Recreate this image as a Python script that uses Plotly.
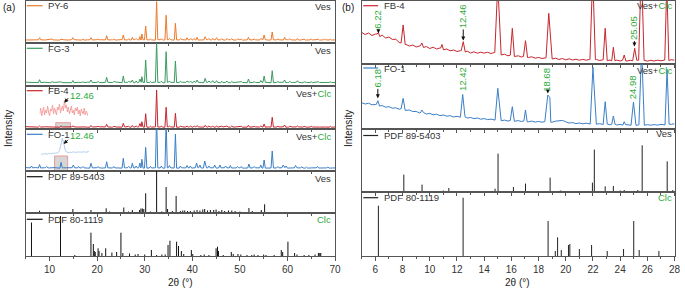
import plotly.graph_objects as go

W, H = 685, 288
FONT = "Liberation Sans, Arial, sans-serif"

ORANGE = "#EC7A2A"
GREEN_L = "#3A9B5E"
RED = "#C6262E"
BLUE = "#3A7EC6"
LIGHTRED = "#F4A0A0"
LIGHTBLUE = "#AECBEA"
GREEN_T = "#2EAA3A"
FRAME = "#555555"

# ---------------- panel (a) data (intensity in arbitrary units) ----------------
A_BASE_X = list(range(5, 71))
PY6_BASE = [3.0,3.3,2.9,3.2,3.0,3.4,3.1,2.9,3.2,3.0,
            3.3,3.1,2.9,3.2,3.0,3.3,2.9,3.1,3.2,3.0,
            3.4,3.1,2.9,3.3,3.0,3.2,3.1,2.9,3.3,3.0,
            3.2,2.9,3.1,3.3,3.0,3.2,2.9,3.1,3.3,3.0,
            3.2,3.1,2.9,3.3,3.0,3.2,2.9,3.1,3.2,3.0,
            3.3,2.9,3.1,3.2,3.0,3.3,3.1,2.9,3.2,3.0,
            3.1,3.3,2.9,3.2,3.0,3.1]
FG3_BASE = [3.8,3.5,3.9,3.4,3.7,3.3,3.6,3.9,3.4,3.6,
            3.3,3.7,3.5,3.8,3.4,3.6,3.3,3.7,3.5,3.9,
            3.4,3.6,3.8,3.3,3.7,3.5,3.4,3.8,3.6,3.3,
            3.7,3.5,3.4,3.8,3.6,3.3,3.7,3.4,3.6,3.8,
            3.5,3.3,3.7,3.4,3.6,3.8,3.5,3.3,3.6,3.4,
            3.7,3.5,3.3,3.6,3.8,3.4,3.5,3.7,3.3,3.6,
            3.4,3.7,3.5,3.3,3.6,3.4]
FB4A_BASE = [2.3,2.0,2.4,1.9,2.2,2.0,2.3,1.8,2.1,2.0,
             2.2,1.9,2.1,1.8,2.0,2.2,1.9,2.1,1.8,2.0,
             1.9,2.1,1.8,2.0,2.2,1.9,1.8,2.1,2.0,1.8,
             2.1,1.9,1.8,2.1,2.0,1.8,2.2,1.9,2.0,2.1,
             1.8,2.0,2.2,1.9,2.0,2.1,1.8,1.9,2.1,2.0,
             1.8,2.1,1.9,2.0,2.2,1.8,2.0,2.1,1.9,1.8,
             2.0,2.1,1.9,2.0,1.8,2.0]
FO1A_BASE = [3.4,3.1,3.5,3.0,3.3,3.1,3.4,2.9,3.2,3.0,
             3.3,3.0,3.2,2.9,3.1,3.3,2.9,3.2,3.0,3.1,
             2.9,3.2,3.0,3.1,3.3,2.9,3.0,3.2,3.1,2.9,
             3.2,3.0,2.9,3.2,3.1,2.9,3.3,3.0,3.1,3.2,
             2.9,3.1,3.3,3.0,3.1,3.2,2.9,3.0,3.2,3.1,
             2.9,3.2,3.0,3.1,3.3,2.9,3.1,3.2,3.0,2.9,
             3.1,3.2,3.0,3.1,2.9,3.1]

A_PEAK_POS = [7.9, 10.5, 12.4, 14.9, 17.0, 18.7, 20.2, 22.0, 23.5, 25.5,
              26.6, 27.4, 28.2, 29.0, 29.4, 30.2, 31.2, 32.5, 33.5, 34.5,
              35.2, 36.45, 37.5, 38.9, 39.6, 40.4, 41.0, 42.7, 43.5, 44.3,
              45.1, 46.2, 47.3, 48.3, 49.5, 50.3, 51.8, 53.0, 54.4, 55.1,
              56.8, 58.0, 59.4, 60.5, 62.1, 63.5, 65.0, 66.5, 67.8, 69.0]
PY6_PEAK_TOP = [5.3, 4.0, 3.8, 5.3, 3.8, 5.3, 4.0, 7.3, 4.0, 8.0,
                4.0, 5.7, 4.5, 6.5, 9.0, 17.0, 4.0, 41.3, 4.3, 27.8,
                4.5, 19.7, 4.2, 5.3, 4.5, 4.5, 5.7, 6.3, 4.5, 4.7,
                5.3, 4.3, 4.5, 4.3, 4.0, 4.0, 5.7, 4.0, 4.5, 8.0,
                11.0, 4.0, 5.7, 4.3, 4.5, 3.8, 4.0, 3.8, 4.0, 3.8]
FG3_PEAK_TOP = [6.3, 4.3, 4.2, 5.5, 4.3, 6.0, 4.5, 8.7, 4.5, 10.0,
                4.5, 6.0, 5.0, 7.0, 9.3, 26.0, 4.5, 45.0, 4.8, 34.3,
                5.0, 25.0, 4.8, 5.0, 4.8, 5.0, 6.0, 7.7, 5.0, 5.3,
                5.3, 4.8, 5.0, 4.5, 4.3, 4.3, 7.0, 4.3, 5.5, 10.0,
                15.3, 4.5, 6.0, 4.8, 5.3, 4.2, 4.3, 4.2, 4.0, 4.1]
FB4A_PEAK_TOP = [3.0, 2.6, 3.2, 3.0, 2.6, 3.5, 2.7, 4.7, 2.7, 5.7,
                 2.7, 3.5, 3.0, 5.5, 7.3, 15.3, 2.8, 39.0, 3.0, 21.7,
                 3.0, 15.7, 2.8, 3.0, 2.8, 3.0, 3.3, 3.7, 3.0, 3.0,
                 3.2, 2.8, 3.0, 3.0, 2.7, 2.7, 3.7, 2.7, 3.0, 5.0,
                 11.7, 2.7, 4.0, 2.8, 3.0, 2.6, 2.7, 2.6, 2.6, 2.6]
FO1A_PEAK_POS = [6.2, 7.9, 9.4, 12.42, 15.0, 16.1, 17.0, 18.7, 20.2, 22.0,
                 23.5, 25.5, 26.6, 27.4, 28.2, 29.0, 29.4, 30.2, 31.2, 32.5,
                 33.5, 34.5, 35.2, 36.45, 37.5, 38.9, 39.6, 40.9, 41.6, 42.6,
                 43.5, 44.7, 45.8, 47.0, 48.0, 49.5, 50.3, 51.9, 53.0, 54.4,
                 55.1, 56.8, 58.0, 59.1, 59.7, 61.7, 63.0, 64.0, 66.3, 68.5]
FO1A_PEAK_TOP = [5.0, 6.5, 4.5, 8.7, 6.0, 4.5, 4.5, 7.7, 4.3, 9.3,
                 4.5, 12.7, 4.5, 7.7, 5.0, 8.0, 11.7, 23.7, 4.5, 55.0,
                 5.0, 50.0, 5.5, 37.0, 5.0, 5.5, 5.0, 8.0, 6.0, 10.0,
                 5.0, 6.0, 6.0, 5.0, 5.5, 4.5, 4.5, 7.0, 4.5, 6.0,
                 11.0, 20.0, 4.5, 6.0, 5.0, 5.5, 4.3, 4.0, 4.5, 4.0]

PDF89A_POS = [7.9, 14.9, 18.7, 21.9, 22.6, 25.6, 26.6, 27.4, 28.9, 29.2,
              29.5, 29.8, 30.2, 31.2, 32.5, 33.6, 34.5, 34.8, 35.8, 36.6,
              37.5, 38.0, 38.4, 39.0, 39.6, 40.4, 41.0, 41.6, 42.2, 42.6,
              43.2, 43.8, 44.5, 45.0, 45.6, 46.2, 46.8, 47.6, 48.3, 49.0,
              50.0, 51.9, 52.6, 54.5, 55.2]
PDF89A_HT = [2.3, 4.0, 3.0, 4.7, 1.5, 5.5, 1.5, 3.0, 3.0, 4.5,
             4.5, 4.0, 19.7, 1.5, 42.0, 1.5, 26.0, 4.0, 2.0, 17.0,
             2.0, 2.5, 2.5, 2.0, 2.0, 2.5, 3.0, 2.5, 3.5, 4.0,
             2.5, 3.0, 3.0, 3.5, 2.0, 3.0, 2.0, 2.5, 2.5, 2.0,
             1.5, 5.0, 2.0, 3.0, 8.7]
PDF80A_POS = [6.2, 12.3, 15.3, 18.7, 19.2, 19.4, 19.6, 20.2, 20.4, 21.0,
              21.8, 23.1, 24.1, 25.0, 25.4, 26.8, 28.0, 28.6, 30.0, 31.4,
              32.5, 33.6, 34.3, 34.9, 35.3, 36.7, 37.1, 37.7, 38.2, 39.8,
              40.1, 41.8, 42.5, 43.5, 45.0, 45.3, 45.5, 46.5, 48.2, 48.6,
              49.6, 50.2, 51.5, 52.5, 53.0, 53.8, 55.0, 55.5, 57.2, 58.7,
              59.0, 60.1, 61.5, 62.0, 63.5, 64.5, 65.8, 66.5, 66.8, 67.0]
PDF80A_HT = [33.5, 40.0, 1.0, 23.3, 12.0, 5.0, 4.0, 7.7, 5.0, 3.0,
             7.7, 3.5, 4.0, 23.3, 3.0, 2.5, 1.5, 2.0, 1.5, 6.0,
             1.0, 1.5, 1.5, 11.0, 15.3, 14.3, 10.0, 5.0, 2.0, 6.0,
             2.0, 1.0, 1.5, 1.0, 7.7, 9.3, 5.0, 1.0, 4.0, 2.0,
             2.0, 1.5, 1.0, 1.0, 1.5, 1.0, 1.5, 1.0, 1.0, 6.0,
             4.0, 14.3, 3.0, 1.5, 1.0, 1.0, 1.5, 3.0, 3.0, 3.0]

# insets (magnified 2θ ≈ 11–14° region)
FB4_INSET_Y = [9,15,7,12,16,8,13,10,17,11,7,14,12,18,9,15,11,8,16,13,
               19,10,14,17,12,23,15,18,11,16,9,14,17,10,13,8,15,12,16,9,
               13,7,14,11,9,15,8,12,10,7]
FO1_INSET_Y = [3.0,2.6,3.2,2.8,3.4,3.0,3.3,2.9,3.6,3.2,
               3.7,3.3,3.9,3.5,4.0,3.6,4.1,3.8,4.6,6.5,
               10.5,15.5,19.0,15.0,10.0,6.5,5.0,4.6,4.9,4.4,
               4.8,4.3,4.9,5.2,4.6,5.0,4.4,4.9,5.3,4.7,
               5.1,4.5,5.0,5.4,4.8,5.2,4.6,5.1,5.5,4.9]

# ---------------- panel (b) data ----------------
B_BASE_X = [5 + 0.25 * i for i in range(93)]
FB4B_BASE = [31.5,29.5,31.0,28.5,30.0,27.5,28.8,26.0,27.0,24.5,24.8,21.5,
             21.0,19.5,18.0,19.0,17.0,18.2,16.5,17.5,15.5,16.8,15.0,16.0,
             14.2,15.0,13.2,14.0,12.5,13.3,12.0,12.8,11.0,12.2,10.8,11.8,
             10.9,11.7,10.5,11.5,10.5,9.0,9.8,8.2,8.8,7.5,8.2,7.0,
             7.6,6.5,7.2,5.8,6.6,5.5,6.2,5.8,5.0,5.8,4.5,5.5,
             4.2,5.2,4.0,4.8,3.8,4.6,3.8,4.5,4.0,4.5,3.5,4.2,
             3.3,4.0,3.2,3.9,3.0,3.8,3.0,3.7,3.2,3.8,3.0,3.6,
             2.9,3.7,3.0,3.8,3.2,4.0,3.5,4.3,3.8]
FO1B_BASE = [26.2,25.0,25.8,24.2,24.5,23.0,23.4,21.8,22.3,20.8,21.2,19.8,
             20.3,18.6,19.0,17.4,17.6,16.0,16.4,15.0,15.6,14.2,14.8,13.4,
             14.0,12.8,13.3,12.0,12.7,11.8,12.2,11.0,11.5,10.4,11.0,9.8,
             10.4,9.4,9.9,8.9,9.3,8.3,8.9,7.9,8.6,7.7,8.4,7.5,
             8.1,7.2,7.9,6.9,7.6,6.8,7.4,6.6,6.8,7.8,8.2,8.6,
             7.2,6.0,6.4,5.4,6.0,5.2,5.8,5.0,5.6,4.8,5.3,4.5,
             5.0,4.2,4.8,4.0,4.6,3.9,4.4,3.8,4.3,3.8,4.2,3.7,
             4.3,3.8,4.4,3.9,4.6,4.1,4.9,4.6,5.3]
FB4B_PEAK_POS = [6.22, 8.04, 9.42, 10.9, 12.46, 15.0, 16.07, 17.04, 18.75, 21.98,
                 22.9, 23.5, 24.3, 25.07, 25.56, 27.43]
FB4B_PEAK_TOP = [31.5, 39.0, 21.0, 19.5, 22.3, 80.0, 35.7, 23.3, 50.7, 90.0,
                 35.7, 16.7, 9.0, 15.7, 100.0, 80.0]
FB4B_PEAK_HW = [0.1, 0.15, 0.12, 0.1, 0.15, 0.22, 0.15, 0.15, 0.2, 0.2,
                0.15, 0.12, 0.12, 0.15, 0.2, 0.15]
FO1B_PEAK_POS = [6.18, 8.04, 9.42, 12.42, 15.0, 16.07, 17.04, 18.68, 22.0, 22.9,
                 23.5, 24.3, 24.98, 25.58, 27.45]
FO1B_PEAK_TOP = [28.3, 30.7, 19.0, 34.5, 40.7, 22.3, 19.0, 34.0, 61.7, 27.3,
                 13.0, 7.3, 27.0, 80.0, 59.7]
FO1B_PEAK_HW = [0.12, 0.15, 0.12, 0.17, 0.2, 0.15, 0.12, 0.22, 0.2, 0.15,
                0.12, 0.1, 0.18, 0.2, 0.15]
FO1B_SHOULDER_X = [18.83]
FO1B_SHOULDER_Y = [31.5]

PDF89B_POS = [8.09, 9.43, 11.0, 11.4, 14.8, 15.02, 16.15, 17.04, 18.85, 19.6,
              19.7, 21.96, 22.1, 22.9, 23.5, 24.0, 24.3, 25.3, 25.62, 27.46, 27.87]
PDF89B_HT = [17.4, 7.4, 1.5, 4.0, 3.3, 38.4, 5.0, 8.4, 14.4, 1.5,
             1.2, 9.4, 42.4, 5.7, 6.0, 1.5, 2.0, 2.0, 46.7, 30.7, 2.0]
PDF80B_POS = [6.22, 12.45, 18.7, 19.23, 19.4, 19.67, 20.2, 20.3, 21.0, 21.9,
              23.05, 24.25, 25.0, 25.4, 26.85]
PDF80B_HT = [50.3, 58.3, 35.0, 5.0, 18.7, 6.0, 11.0, 12.0, 7.0, 11.0,
             5.0, 7.0, 35.0, 6.0, 5.0]

A_NAMES = ["PY-6", "FG-3", "FB-4", "FO-1", "PDF 89-5403", "PDF 80-1119"]
A_PHASES = ["Ves", "Ves", "Ves+Clc", "Ves+Clc", "Ves", "Clc"]
B_NAMES = ["FB-4", "FO-1", "PDF 89-5403", "PDF 80-1119"]
B_PHASES = ["Ves+Clc", "Ves+Clc", "Ves", "Clc"]
B_MARKS_FB4 = [6.22, 12.46, 25.05]
B_MARKS_FO1 = [6.18, 12.42, 18.68, 24.98]

# ---------------- helpers ----------------
def nearest(bx, by, x):
    i = min(range(len(bx)), key=lambda k: abs(bx[k] - x))
    return by[i]

def profile(bx, by, pos, top, hws, ex=(), ey=()):
    wins, pts = [], []
    for p, t, hw in zip(pos, top, hws):
        wins.append((p - hw, p + hw))
        pts += [(p - hw, nearest(bx, by, p - hw)), (p, t), (p + hw, nearest(bx, by, p + hw))]
    for x, y in zip(bx, by):
        if not any(a < x < b for a, b in wins):
            pts.append((x, y))
    pts += list(zip(ex, ey))
    pts.sort(key=lambda q: q[0])
    return [q[0] for q in pts], [q[1] for q in pts]

def sticks(pos, hts):
    xs, ys = [], []
    for p, h in zip(pos, hts):
        xs += [p, p, None]
        ys += [0, h, None]
    return xs, ys

def X(px):
    return px / W

def Y(py):
    return 1 - py / H

# ---------------- figure ----------------
fig = go.Figure()
A_ROWS = [(1, 43), (43, 86), (86, 129), (129, 171), (171, 213), (213, 256)]
B_ROWS = [(1, 64), (64, 129), (129, 192), (192, 256)]
AX0, AX1 = 26, 338
BX0, BX1 = 365, 680.5

layout = dict(width=W, height=H, margin=dict(l=0, r=0, t=0, b=0),
              paper_bgcolor="white", plot_bgcolor="rgba(0,0,0,0)",
              showlegend=False, font=dict(family=FONT, size=10, color="#222"))

def add_axes(n, xdom, rows, row_i, xrange, dtick, mdtick, last):
    top, bot = rows[row_i]
    sfx = "" if n == 1 else str(n)
    layout["xaxis" + sfx] = dict(
        domain=[X(xdom[0]), X(xdom[1])], range=xrange, anchor="y" + sfx,
        showline=True, mirror=True, linecolor=FRAME, linewidth=1,
        ticks="outside", ticklen=4 if last else 3, tickcolor=FRAME, tickwidth=1,
        tick0=0, dtick=dtick, showticklabels=last,
        tickfont=dict(family=FONT, size=10, color="#333"),
        minor=dict(dtick=mdtick, tick0=0, ticks="outside", ticklen=2, tickcolor=FRAME),
        showgrid=False, zeroline=False, fixedrange=True)
    layout["yaxis" + sfx] = dict(
        domain=[Y(bot), Y(top)], range=[0, bot - top], anchor="x" + sfx,
        showline=True, mirror=True, linecolor=FRAME, linewidth=1,
        ticks="", showticklabels=False, showgrid=False, zeroline=False, fixedrange=True)

for i in range(6):
    add_axes(i + 1, (AX0, AX1), A_ROWS, i, [5, 70], 10, 5, i == 5)
for i in range(4):
    add_axes(i + 7, (BX0, BX1), B_ROWS, i, [5, 28], 2, 1, i == 3)

# inset axes
layout["xaxis11"] = dict(domain=[X(40), X(89)], range=[10.9, 13.8], anchor="y11", visible=False, fixedrange=True)
layout["yaxis11"] = dict(domain=[Y(123), Y(98)], range=[0, 25], anchor="x11", visible=False, fixedrange=True)
layout["xaxis12"] = dict(domain=[X(41), X(90)], range=[11.2, 14.0], anchor="y12", visible=False, fixedrange=True)
layout["yaxis12"] = dict(domain=[Y(157), Y(136)], range=[0, 21], anchor="x12", visible=False, fixedrange=True)

def line(x, y, n, color, w=1.0):
    sfx = "" if n == 1 else str(n)
    fig.add_trace(go.Scatter(x=x, y=y, mode="lines", xaxis="x" + sfx, yaxis="y" + sfx,
                             line=dict(color=color, width=w), hoverinfo="skip"))

hwA = [0.25] * len(A_PEAK_POS)
hwA2 = [0.25] * len(FO1A_PEAK_POS)
line(*profile(A_BASE_X, PY6_BASE, A_PEAK_POS, PY6_PEAK_TOP, hwA), 1, ORANGE)
line(*profile(A_BASE_X, FG3_BASE, A_PEAK_POS, FG3_PEAK_TOP, hwA), 2, GREEN_L)
line(*profile(A_BASE_X, FB4A_BASE, A_PEAK_POS, FB4A_PEAK_TOP, hwA), 3, RED)
line(*profile(A_BASE_X, FO1A_BASE, FO1A_PEAK_POS, FO1A_PEAK_TOP, hwA2), 4, BLUE)
line(*sticks(PDF89A_POS, PDF89A_HT), 5, "#111", 1)
line(*sticks(PDF80A_POS, PDF80A_HT), 6, "#111", 1)

n1 = len(FB4_INSET_Y)
line([10.9 + 2.9 * k / (n1 - 1) for k in range(n1)], FB4_INSET_Y, 11, LIGHTRED, 1)
n2 = len(FO1_INSET_Y)
line([11.2 + 2.8 * k / (n2 - 1) for k in range(n2)], FO1_INSET_Y, 12, LIGHTBLUE, 1)

line(*profile(B_BASE_X, FB4B_BASE, FB4B_PEAK_POS, FB4B_PEAK_TOP, FB4B_PEAK_HW), 7, RED)
line(*profile(B_BASE_X, FO1B_BASE, FO1B_PEAK_POS, FO1B_PEAK_TOP, FO1B_PEAK_HW,
              FO1B_SHOULDER_X, FO1B_SHOULDER_Y), 8, BLUE)
line(*sticks(PDF89B_POS, PDF89B_HT), 9, "#222", 1)
line(*sticks(PDF80B_POS, PDF80B_HT), 10, "#222", 1)

shapes = []
ann = []

# gray magnification boxes
shapes.append(dict(type="rect", xref="x3", yref="y3", x0=11.3, x1=14.4, y0=0.7, y1=6.3,
                   fillcolor="#D6D6D6", line=dict(color="#E89A9A", width=1), layer="below"))
shapes.append(dict(type="rect", xref="x4", yref="y4", x0=11.05, x1=13.8, y0=0.3, y1=15,
                   fillcolor="#D6D6D6", line=dict(color="#E89A9A", width=1), layer="below"))

def phase_text(s):
    if s == "Ves+Clc":
        return "Ves+<span style='color:%s'>Clc</span>" % GREEN_T
    if s == "Clc":
        return "<span style='color:%s'>Clc</span>" % GREEN_T
    return s

A_COLORS = [ORANGE, GREEN_L, RED, BLUE, "#111", "#111"]
A_LAB_Y = [5.7, 48.3, 90.7, 134.3, 176.7, 219.3]
A_PH_Y = [6.7, 50, 93, 136, 178, 219]
for name, col, ly, ph, py in zip(A_NAMES, A_COLORS, A_LAB_Y, A_PHASES, A_PH_Y):
    shapes.append(dict(type="line", xref="paper", yref="paper", x0=X(27), x1=X(43), y0=Y(ly), y1=Y(ly),
                       line=dict(color=col, width=1.2)))
    ann.append(dict(xref="paper", yref="paper", x=X(46), y=Y(ly), text=name, showarrow=False,
                    xanchor="left", yanchor="middle", font=dict(size=9.5, color="#333")))
    ann.append(dict(xref="paper", yref="paper", x=X(336), y=Y(py), text=phase_text(ph), showarrow=False,
                    xanchor="right", yanchor="middle", font=dict(size=9.5, color="#333")))

B_COLORS = [RED, BLUE, "#222", "#222"]
B_LAB_Y = [5.7, 68, 135.5, 197.7]
B_PH_Y = [5.5, 70, 133, 197.7]
for name, col, ly, ph, py in zip(B_NAMES, B_COLORS, B_LAB_Y, B_PHASES, B_PH_Y):
    shapes.append(dict(type="line", xref="paper", yref="paper", x0=X(366.5), x1=X(381.5), y0=Y(ly), y1=Y(ly),
                       line=dict(color=col, width=1.2)))
    ann.append(dict(xref="paper", yref="paper", x=X(385.5), y=Y(ly), text=name, showarrow=False,
                    xanchor="left", yanchor="middle", font=dict(size=9.5, color="#333")))
    ann.append(dict(xref="paper", yref="paper", x=X(679.5), y=Y(py), text=phase_text(ph), showarrow=False,
                    xanchor="right", yanchor="middle", font=dict(size=9.5, color="#333")))

# inset arrows and labels in (a)
for hx, hy, tx, ty, lx, lyy in [(65, 102.7, 70, 96.7, 82.5, 95), (64.3, 144, 70, 138.3, 82.5, 135)]:
    ann.append(dict(xref="paper", yref="paper", x=X(hx), y=Y(hy), ax=tx - hx, ay=ty - hy,
                    text="", showarrow=True, arrowhead=2, arrowsize=0.8, arrowwidth=1, arrowcolor="#111"))
    ann.append(dict(xref="paper", yref="paper", x=X(lx), y=Y(lyy), text="12.46", showarrow=False,
                    xanchor="center", yanchor="middle", font=dict(size=9.5, color=GREEN_T)))

# peak marks in (b): (position, arrow head, text centre)
FB4_MARK_HEAD = [30.7, 23.5, 17.5]
FB4_MARK_TXT = [45.0, 47.3, 35.7]
FO1_MARK_HEAD = [30.7, 36.3, 35.5, 28.5]
FO1_MARK_TXT = [50.7, 50.0, 49.3, 41.5]
for axn, marks, heads, txts in [(7, B_MARKS_FB4, FB4_MARK_HEAD, FB4_MARK_TXT),
                                (8, B_MARKS_FO1, FO1_MARK_HEAD, FO1_MARK_TXT)]:
    for m, hd, tc in zip(marks, heads, txts):
        label = ("%.2f" % m)
        half = 4.3 * len(label) / 2 + 0.5
        ann.append(dict(xref="x%d" % axn, yref="y%d" % axn, x=m, y=hd, ax=m, ay=tc - half,
                        axref="x%d" % axn, ayref="y%d" % axn, text="", showarrow=True,
                        arrowhead=2, arrowsize=0.8, arrowwidth=1, arrowcolor="#111"))
        ann.append(dict(xref="x%d" % axn, yref="y%d" % axn, x=m - 0.05, y=tc, text=label, textangle=-90,
                        showarrow=False, xanchor="center", yanchor="middle",
                        font=dict(size=9.5, color=GREEN_T)))

# panel letters and axis titles
ann.append(dict(xref="paper", yref="paper", x=X(1.5), y=Y(7), text="(a)", showarrow=False,
                xanchor="left", yanchor="middle", font=dict(size=10, color="#222")))
ann.append(dict(xref="paper", yref="paper", x=X(343), y=Y(7), text="(b)", showarrow=False,
                xanchor="left", yanchor="middle", font=dict(size=10, color="#222")))
for cx in [182, 522]:
    ann.append(dict(xref="paper", yref="paper", x=X(cx), y=Y(282), text="2θ (°)", showarrow=False,
                    xanchor="center", yanchor="middle", font=dict(size=10, color="#222")))
for cx in [8, 351]:
    ann.append(dict(xref="paper", yref="paper", x=X(cx), y=Y(128), text="Intensity", showarrow=False,
                    textangle=-90, xanchor="center", yanchor="middle", font=dict(size=10, color="#222")))

layout["shapes"] = shapes
layout["annotations"] = ann
fig.update_layout(**layout)
fig.write_html("out.html", config={"displayModeBar": False},
               post_script="document.body.style.margin='0';document.body.style.padding='0';")
